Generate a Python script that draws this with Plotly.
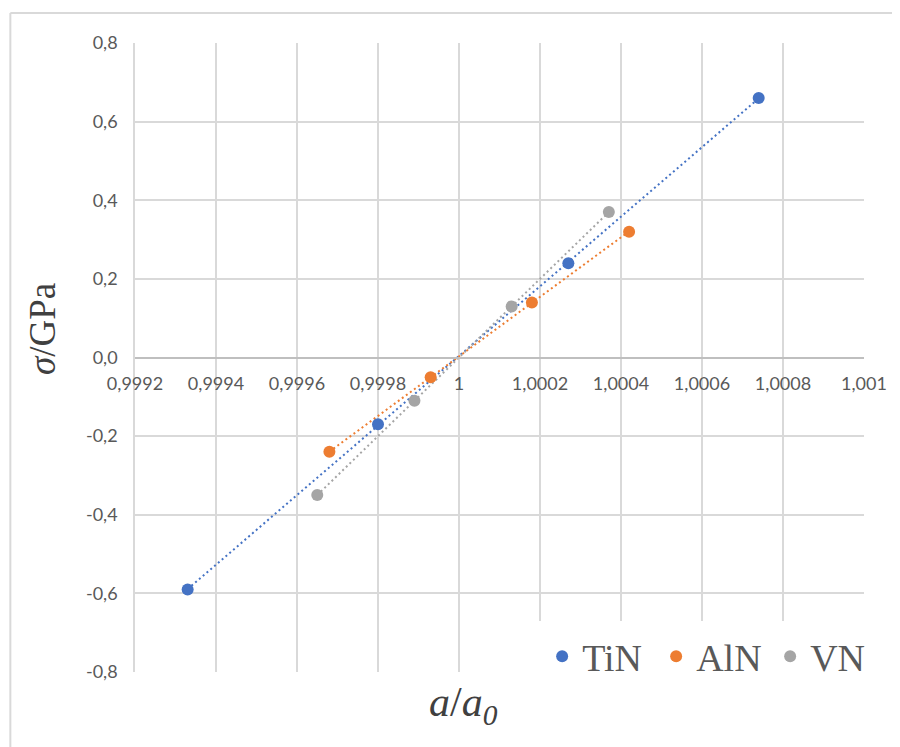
import numpy as np
import plotly.graph_objects as go

# ---- data ----
series_names = ["TiN", "AlN", "VN"]
tin_x = [0.99933, 0.99980, 1.00027, 1.00074]
tin_y = [-0.59, -0.17, 0.24, 0.66]
aln_x = [0.99968, 0.99993, 1.00018, 1.00042]
aln_y = [-0.24, -0.05, 0.14, 0.32]
vn_x = [0.99965, 0.99989, 1.00013, 1.00037]
vn_y = [-0.35, -0.11, 0.13, 0.37]
colors = ["#4472C4", "#ED7D31", "#A5A5A5"]

x_tickvals = [0.9992, 0.9994, 0.9996, 0.9998, 1.0, 1.0002, 1.0004, 1.0006, 1.0008, 1.001]
x_ticktext = ["0,9992", "0,9994", "0,9996", "0,9998", "1", "1,0002", "1,0004", "1,0006", "1,0008", "1,001"]
y_tickvals = [-0.8, -0.6, -0.4, -0.2, 0.0, 0.2, 0.4, 0.6, 0.8]
y_ticktext = ["-0,8", "-0,6", "-0,4", "-0,2", "0,0", "0,2", "0,4", "0,6", "0,8"]

all_x = [tin_x, aln_x, vn_x]
all_y = [tin_y, aln_y, vn_y]

fig = go.Figure()

# trend lines (linear fit over data range)
for name, xs, ys, c in zip(series_names, all_x, all_y, colors):
    xa = np.array(xs)
    ya = np.array(ys)
    m, b = np.polyfit(xa - 1.0, ya, 1)
    xl = np.array([xa.min(), xa.max()])
    yl = m * (xl - 1.0) + b
    fig.add_trace(go.Scatter(x=xl, y=yl, mode="lines", showlegend=False,
                             line=dict(color=c, width=2, dash="2px,3px"),
                             hoverinfo="skip"))

for name, xs, ys, c in zip(series_names, all_x, all_y, colors):
    fig.add_trace(go.Scatter(x=xs, y=ys, mode="markers", name=name,
                             marker=dict(color=c, size=12)))

grid = "#D9D9D9"
tickfont = dict(family="Lato", size=18, color="#595959")

fig.update_layout(
    width=892, height=739,
    margin=dict(l=127, r=34, t=35, b=75),
    paper_bgcolor="white", plot_bgcolor="white",
    showlegend=True,
    legend=dict(orientation="h", x=0.553, xanchor="left", y=0.081, yanchor="top",
                bgcolor="white", bordercolor="white", borderwidth=4,
                entrywidth=69,
                font=dict(family="Liberation Serif", size=38, color="#595959")),
    xaxis=dict(range=[0.9992, 1.001], tickvals=x_tickvals, ticktext=x_ticktext,
               showgrid=True, gridcolor=grid, gridwidth=1.5, zeroline=False,
               showline=True, linecolor="#BFBFBF", linewidth=1.5,
               anchor="free", position=0.5, ticks="", tickfont=tickfont,
               ticklabelstandoff=10),
    yaxis=dict(range=[-0.8, 0.8], tickvals=y_tickvals, ticktext=y_ticktext,
               showgrid=True, gridcolor=grid, gridwidth=1.5, zeroline=False,
               showline=True, linecolor=grid, linewidth=1.5,
               ticks="", tickfont=tickfont, ticklabelstandoff=12),
    shapes=[
        dict(type="line", xref="paper", yref="paper",
             x0=-0.171, x1=1.3, y0=1.0477, y1=1.0477,
             line=dict(color="#D9D9D9", width=2), layer="below"),
        dict(type="line", xref="paper", yref="paper",
             x0=-0.171, x1=-0.171, y0=-0.3, y1=1.0477,
             line=dict(color="#D9D9D9", width=2), layer="below"),
    ],
    annotations=[
        dict(text="<i>σ</i>/GPa", xref="paper", yref="paper", x=-0.127, y=0.546,
             xanchor="center", yanchor="middle",
             textangle=-90, showarrow=False,
             font=dict(family="Liberation Serif", size=37, color="#404040")),
        dict(text="<i>a</i>/<i>a<sub>0</sub></i>", xref="paper", yref="paper", x=0.45, y=-0.0525,
             xanchor="center", yanchor="middle",
             showarrow=False,
             font=dict(family="Liberation Serif", size=42, color="#404040")),
    ],
)

fig.write_html("out.html")
